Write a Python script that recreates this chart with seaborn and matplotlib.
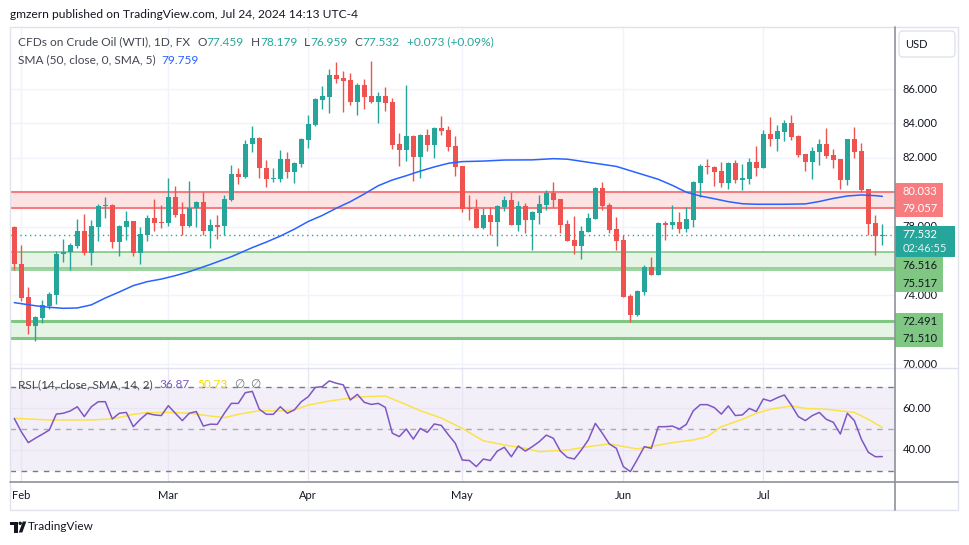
#!/usr/bin/env python3
"""
WTI crude oil CFD, daily candles Feb-Jul 2024, drawn in a TradingView-like layout.
"""

import numpy as np
import pandas as pd
import matplotlib
matplotlib.use("Agg")
import matplotlib.pyplot as plt
from matplotlib.patches import Rectangle, FancyBboxPatch, Polygon, Circle
from matplotlib.lines import Line2D
from matplotlib.transforms import IdentityTransform
import seaborn as sns

# ---------------- data ----------------
# trading days 31 Jan .. 24 Jul 2024, Good Friday closed
dates = pd.bdate_range("2024-01-31", "2024-07-24").drop(pd.Timestamp("2024-03-29"))

opens = [77.96, 75.83, 73.91, 72.24, 72.71, 73.40, 74.02, 76.39, 76.50, 76.89,
         77.75, 76.48, 78.00, 79.22, 79.26, 77.13, 78.00, 78.33, 76.48, 77.51,
         78.48, 78.29, 78.23, 79.72, 78.73, 78.05, 79.06, 79.45, 77.76, 78.09,
         78.05, 79.55, 81.06, 80.90, 82.78, 83.15, 81.39, 80.77, 80.77, 81.93,
         81.20, 81.64, 83.03, 83.91, 85.36, 85.55, 86.81, 86.66, 86.52, 85.26,
         86.23, 85.59, 85.26, 85.59, 85.26, 82.80, 82.45, 83.27, 82.07, 83.33,
         82.74, 83.75, 83.62, 82.69, 81.52, 79.06, 79.02, 77.94, 78.67, 78.29,
         79.16, 79.55, 78.09, 79.20, 78.38, 78.81, 79.26, 79.97, 79.60, 78.15,
         77.22, 76.87, 77.71, 78.44, 80.26, 79.26, 77.86, 77.22, 73.97, 72.86,
         74.22, 75.67, 75.19, 78.23, 78.09, 78.29, 77.86, 78.38, 80.55, 81.52,
         81.46, 81.23, 80.55, 81.72, 80.71, 80.77, 81.78, 81.43, 83.38, 83.09,
         83.52, 84.02, 83.27, 82.22, 81.78, 82.36, 82.80, 82.16, 81.93, 80.71,
         83.09, 82.40, 80.19, 78.19, 77.459]
highs = [78.05, 76.93, 74.51, 72.80, 73.73, 74.18, 76.58, 77.30, 77.03, 78.44,
         78.73, 78.39, 79.31, 79.72, 79.30, 78.10, 78.93, 78.35, 77.96, 78.70,
         79.60, 79.26, 80.81, 80.36, 79.45, 80.65, 79.49, 79.99, 78.44, 78.68,
         79.84, 81.58, 81.39, 83.04, 83.87, 83.20, 81.87, 81.39, 82.45, 82.36,
         81.78, 83.17, 84.49, 85.50, 86.17, 87.16, 87.59, 87.07, 86.95, 86.37,
         86.58, 87.65, 85.85, 86.10, 85.46, 83.42, 86.23, 83.30, 83.37, 83.67,
         83.81, 84.43, 83.85, 83.27, 81.55, 79.84, 79.60, 79.06, 79.12, 79.26,
         79.78, 79.99, 79.51, 79.35, 78.91, 79.84, 80.13, 80.61, 79.60, 78.38,
         78.62, 78.04, 78.77, 80.30, 80.61, 79.40, 78.54, 77.51, 74.06, 74.32,
         75.77, 76.25, 78.29, 78.35, 79.26, 78.87, 79.16, 80.67, 81.64, 81.93,
         81.50, 81.74, 81.78, 81.87, 81.62, 82.01, 82.71, 83.62, 84.39, 83.91,
         84.18, 84.49, 83.30, 82.25, 82.63, 83.09, 83.75, 82.51, 81.95, 83.10,
         83.81, 82.88, 80.20, 78.68, 78.179]
lows = [75.48, 73.67, 71.78, 71.37, 72.38, 73.21, 73.52, 75.92, 75.48, 76.74,
        76.35, 75.77, 77.18, 78.52, 76.78, 76.29, 77.22, 76.29, 75.83, 77.18,
        77.76, 77.94, 78.05, 78.54, 77.51, 77.99, 77.99, 77.51, 76.78, 77.28,
        77.51, 79.50, 80.48, 80.85, 82.36, 80.85, 80.32, 80.58, 80.58, 80.85,
        80.55, 81.48, 82.59, 83.85, 84.84, 84.62, 86.33, 84.68, 85.07, 84.49,
        84.84, 85.17, 84.04, 84.74, 82.51, 81.54, 81.81, 80.67, 80.85, 82.41,
        82.01, 83.33, 82.41, 80.96, 78.83, 78.38, 77.94, 77.86, 77.51, 76.89,
        78.91, 78.09, 77.76, 77.65, 76.64, 78.15, 78.96, 79.12, 77.61, 77.16,
        76.41, 76.11, 77.70, 78.44, 78.96, 77.65, 76.64, 73.93, 72.47, 72.80,
        74.02, 75.19, 75.19, 77.22, 77.86, 77.61, 77.70, 78.00, 79.74, 81.06,
        80.38, 80.32, 80.19, 80.55, 80.13, 80.48, 80.96, 81.42, 82.71, 82.40,
        82.98, 83.04, 82.07, 81.23, 80.77, 81.58, 82.01, 81.39, 80.19, 80.42,
        82.01, 80.03, 77.51, 76.35, 76.959]
closes = [75.81, 73.87, 72.24, 72.73, 73.44, 74.08, 76.41, 76.50, 76.93, 77.75,
          76.48, 78.04, 79.20, 79.25, 77.13, 78.04, 78.33, 76.48, 77.57, 78.48,
          78.23, 78.23, 79.72, 78.68, 78.05, 79.06, 79.45, 77.76, 78.09, 78.00,
          79.60, 81.06, 80.90, 82.80, 83.15, 81.39, 80.75, 80.85, 81.93, 81.20,
          81.68, 83.09, 83.97, 85.42, 85.59, 86.81, 86.58, 86.47, 85.26, 86.23,
          85.55, 85.26, 85.59, 85.20, 82.74, 82.45, 83.27, 82.07, 83.33, 82.74,
          83.75, 83.56, 82.65, 81.48, 79.02, 79.00, 77.94, 78.67, 78.29, 79.20,
          79.55, 78.09, 79.20, 78.38, 78.83, 79.31, 79.97, 79.55, 78.09, 77.16,
          76.87, 77.75, 78.52, 80.26, 79.22, 77.80, 77.18, 73.93, 72.86, 74.26,
          75.67, 75.19, 78.23, 78.09, 78.29, 77.86, 78.44, 80.61, 81.52, 81.48,
          81.20, 80.55, 81.72, 80.71, 80.81, 81.78, 81.43, 83.38, 83.09, 83.56,
          84.02, 83.23, 82.16, 81.78, 82.40, 82.80, 82.11, 81.87, 80.71, 83.09,
          82.36, 80.13, 78.15, 77.459, 77.532]

# SMA(50) read at some bars
sma_bar = [0, 3, 5, 7, 9, 11, 13, 15, 17, 19, 21, 23, 25, 28, 31, 34, 36, 38, 40, 42,
           44, 46, 48, 50, 52, 54, 56, 58, 60, 62, 64, 67, 70, 74, 77, 79, 81, 84, 86, 88,
           90, 92, 94, 96, 98, 100, 102, 104, 106, 110, 113, 115, 117, 119, 121, 123, 124]
sma_val = [73.58, 73.40, 73.31, 73.25, 73.27, 73.45, 73.85, 74.20, 74.57, 74.80,
           74.95, 75.15, 75.38, 75.80, 76.25, 76.78, 77.10, 77.45, 77.85, 78.30,
           78.65, 79.07, 79.45, 79.90, 80.38, 80.71, 80.96, 81.23, 81.47, 81.68,
           81.78, 81.81, 81.87, 81.88, 81.95, 81.92, 81.80, 81.62, 81.50, 81.25,
           81.00, 80.75, 80.40, 80.00, 79.78, 79.62, 79.45, 79.33, 79.30, 79.30,
           79.32, 79.46, 79.64, 79.78, 79.84, 79.80, 79.759]

# RSI(14), one value per bar
rsi_val = [55.0, 48.7, 43.5, 45.6, 47.5, 49.5, 57.1, 57.5, 58.6, 60.6,
           55.9, 60.6, 63.0, 63.0, 54.8, 57.5, 57.9, 51.1, 54.6, 57.5,
           56.7, 56.4, 61.1, 57.5, 54.0, 57.5, 58.3, 51.4, 52.3, 52.2,
           57.5, 62.2, 62.2, 67.3, 67.9, 59.4, 57.0, 57.0, 60.6, 57.5,
           59.1, 63.0, 65.4, 69.8, 70.2, 72.9, 71.8, 71.0, 63.8, 66.5,
           62.7, 61.7, 62.2, 60.3, 48.0, 46.4, 50.0, 45.2, 50.3, 48.4,
           52.4, 51.7, 47.3, 43.2, 35.2, 35.0, 32.1, 35.7, 35.0, 39.5,
           41.3, 36.8, 41.9, 39.5, 41.6, 44.0, 47.1, 45.6, 39.5, 36.5,
           35.7, 40.0, 44.8, 52.7, 48.0, 42.9, 40.8, 32.1, 29.7, 35.5,
           41.6, 40.8, 51.1, 51.1, 51.4, 50.0, 52.2, 58.7, 61.6, 61.6,
           60.2, 57.1, 61.0, 56.4, 56.7, 59.8, 58.3, 64.3, 63.3, 64.9,
           66.2, 61.4, 55.9, 54.0, 56.4, 57.9, 54.6, 53.2, 47.6, 57.5,
           54.0, 45.2, 38.9, 36.8, 36.87]

# RSI smoothing (SMA 14) read at some bars
rsi_sma_bar = [0, 5, 11, 14, 17, 19, 22, 25, 28, 30, 32, 35, 38, 40, 42, 45, 47, 50, 53, 55,
               58, 61, 64, 67, 70, 73, 75, 79, 82, 85, 89, 94, 97, 99, 101, 104, 106, 108,
               111, 113, 116, 120, 122, 124]
rsi_sma_val = [55.1, 54.3, 54.3, 54.8, 57.0, 57.8, 57.9, 57.5, 56.2, 55.4,
               57.0, 58.7, 58.6, 59.1, 61.4, 63.3, 64.3, 65.4, 65.7, 63.0,
               58.7, 55.2, 50.3, 44.4, 42.4, 40.8, 39.2, 40.0, 41.6, 42.9,
               40.5, 43.5, 44.8, 46.4, 51.1, 54.6, 57.5, 59.4, 61.0, 59.8,
               59.4, 57.9, 54.6, 50.73]

resistance_zone = [79.057, 80.033]
support_zones = [[75.517, 76.516], [71.510, 72.491]]
price_ticks = [70, 72, 74, 76, 78, 80, 82, 84, 86]
price_labels = [70, 74, 78, 82, 84, 86]   # the others sit under the zone tags
rsi_ticks = [40, 60]
countdown = "02:46:55"

# ---------------- style ----------------
GREEN = "#26a69a"
RED = "#ef5350"
TEXT = "#131722"
LEG = "#434651"
GRID = "#f0f3fa"
W, H = 970, 545

sns.set_theme(style="white")
plt.rcParams["font.family"] = ["Lato", "DejaVu Sans"]


def box(l, t, r, b):
    return [l / W, 1 - b / H, (r - l) / W, (b - t) / H]


fig = plt.figure(figsize=(W / 100, H / 100), dpi=100)
fig.patch.set_facecolor("white")

ax = fig.add_axes(box(10, 27, 895, 368))
ax_r = fig.add_axes(box(10, 368, 895, 482))
sc_p = fig.add_axes(box(895, 27, 958, 368))
sc_r = fig.add_axes(box(895, 368, 958, 482))
for a in (ax, ax_r, sc_p, sc_r):
    for s in a.spines.values():
        s.set_visible(False)
    a.patch.set_alpha(0)

price_lim = (69.78, 89.605)
rsi_lim = (24.76, 79.05)
x_lim = (-0.614, 125.81)
ppu = (368 - 27) / (price_lim[1] - price_lim[0])   # pixels per price unit

o = np.array(opens)
h = np.array(highs)
l = np.array(lows)
c = np.array(closes)
bars = np.arange(len(c))
month_idx = np.flatnonzero(np.diff(dates.month) != 0) + 1
month_lab = [dates[i].strftime("%b") for i in month_idx]

# ---------------- price pane ----------------
ax.axhspan(resistance_zone[0], resistance_zone[1], color="#fde4e4", lw=0, zorder=1)
for v in resistance_zone:
    ax.axhline(v, color="#f77c80", lw=1.5, zorder=1.5)
for k, (lo, hi) in enumerate(support_zones):
    ax.axhspan(lo, hi, color="#e6f4e6", lw=0, zorder=1)
    if k == 0:
        ax.axhline(hi, color="#81c784", lw=1.2, zorder=1.5)
        ax.axhline(lo + 1.0 / ppu, color="#81c784", lw=1.1, zorder=1.5)
        ax.axhline(lo - 1.0 / ppu, color="#81c784", lw=1.1, zorder=1.5)
    else:
        ax.axhline(hi, color="#81c784", lw=2.2, zorder=1.5)
        ax.axhline(lo, color="#81c784", lw=2.2, zorder=1.5)

ax.axhline(c[-1], color=GREEN, lw=1, ls=(0, (1, 2.5)), zorder=2)

up = c >= o
cols = np.where(up, GREEN, RED)
ax.vlines(bars, l, h, colors=cols, lw=1.0, zorder=3)
ax.bar(bars, np.maximum(np.abs(c - o), 0.06), bottom=np.minimum(o, c),
       width=0.72, color=cols, linewidth=0, zorder=3.5)

sns.lineplot(x=sma_bar, y=sma_val, ax=ax, color="#2962ff", linewidth=1.1, zorder=4)

ax.set_xlim(x_lim)
ax.set_ylim(price_lim)
ax.set_yticks(price_ticks)
ax.set_xticks(month_idx)
ax.grid(True, color=GRID, lw=1)
ax.set_axisbelow(True)
ax.tick_params(length=0, labelleft=False, labelbottom=False)
ax.set_xlabel("")
ax.set_ylabel("")

# ---------------- RSI pane ----------------
ax_r.axhspan(30, 70, color="#7e57c2", alpha=0.09, lw=0, zorder=0)
ax_r.axhline(70, color="#787b86", lw=1, ls=(0, (4, 4)), zorder=1)
ax_r.axhline(30, color="#787b86", lw=1, ls=(0, (4, 4)), zorder=1)
ax_r.axhline(50, color="#a9abb3", lw=1, ls=(0, (4, 4)), zorder=1)
sns.lineplot(x=rsi_sma_bar, y=rsi_sma_val, ax=ax_r, color="#fbe24a", linewidth=1.1, zorder=2)
sns.lineplot(x=bars, y=rsi_val, ax=ax_r, color="#7e57c2", linewidth=1.1, zorder=3)
ax_r.set_xlim(x_lim)
ax_r.set_ylim(rsi_lim)
ax_r.set_yticks(rsi_ticks)
ax_r.set_xticks(month_idx)
ax_r.set_xticklabels(month_lab)
ax_r.grid(True, color="#e9e5f3", lw=1)
ax_r.set_axisbelow(True)
ax_r.tick_params(axis="x", length=0, pad=6, labelsize=8, labelcolor=TEXT)
ax_r.tick_params(axis="y", length=0, labelleft=False)
ax_r.set_xlabel("")
ax_r.set_ylabel("")

# ---------------- price scale ----------------
sc_p.set_xlim(0, 63)
sc_p.set_ylim(price_lim)
sc_p.set_xticks([])
sc_p.set_yticks([])
for v in price_labels:
    sc_p.text(7.5, v, f"{v:.3f}", va="center", ha="left", fontsize=8, color=TEXT, zorder=2)


def tag(y_mid, hgt_px, label, fc, tc, w=48):
    sc_p.add_patch(Rectangle((0, y_mid - hgt_px / 2 / ppu), w, hgt_px / ppu,
                             fc=fc, ec="none", zorder=5, clip_on=False))
    sc_p.text(7.5, y_mid, label, va="center", ha="left", fontsize=8, color=tc, zorder=6)


for v in resistance_zone:
    tag(v, 17, f"{v:.3f}", "#f77c80", "white")
for v in support_zones[0]:
    tag(v - 13.8 / ppu, 17.6, f"{v:.3f}", "#81c784", TEXT)
for v in support_zones[1]:
    tag(v, 17, f"{v:.3f}", "#81c784", TEXT)
# last price tag with countdown
sc_p.add_patch(Rectangle((0, c[-1] - 22.7 / ppu), 60, 31 / ppu, fc=GREEN, ec="none",
                         zorder=7, clip_on=False))
sc_p.text(7.5, c[-1], f"{c[-1]:.3f}", va="center", ha="left", fontsize=8, color="white", zorder=8)
sc_p.text(7.5, c[-1] - 13.5 / ppu, countdown, va="center", ha="left", fontsize=8,
          color="#dff3f1", zorder=8)

sc_r.set_xlim(0, 63)
sc_r.set_ylim(rsi_lim)
sc_r.set_xticks([])
sc_r.set_yticks([])
for v in rsi_ticks:
    sc_r.text(7.5, v, f"{v:.2f}", va="center", ha="left", fontsize=8, color=TEXT)

# ---------------- frame ----------------
fig.add_artist(Rectangle((10 / W, 1 - 510 / H), 948 / W, 483 / H, transform=fig.transFigure,
                         fill=False, ec="#e0e3eb", lw=1))
fig.add_artist(Line2D([10 / W, 958 / W], [1 - 368 / H] * 2, color="#e0e3eb", lw=1))
fig.add_artist(Line2D([10 / W, 958 / W], [1 - 482 / H] * 2, color="#8e919a", lw=1.2))
fig.add_artist(Line2D([895 / W] * 2, [1 - 27 / H, 1 - 510 / H], color="#8e919a", lw=1.2))

fig.add_artist(FancyBboxPatch((899, H - 57), 56, 26, boxstyle="round,pad=0,rounding_size=4",
                              transform=IdentityTransform(), fc="white", ec="#e0e3eb", lw=1))
fig.text(905 / W, 1 - 44 / H, "USD", fontsize=8, color=TEXT, va="center", ha="left")

# ---------------- texts ----------------
renderer = fig.canvas.get_renderer()


def seq_text(x, y, parts, size=8.6):
    for s, col, gap in parts:
        t = fig.text(x / W, 1 - y / H, s, color=col, fontsize=size, va="center", ha="left")
        x += t.get_window_extent(renderer).width + gap


fig.text(10 / W, 1 - 14 / H, "gmzern published on TradingView.com, Jul 24, 2024 14:13 UTC-4",
         fontsize=8.65, color=TEXT, va="center", ha="left")

chg = c[-1] - c[-2]
pct = chg / c[-2] * 100
seq_text(18, 42, [("CFDs on Crude Oil (WTI), 1D, FX", LEG, 7),
                  ("O", LEG, 0), (f"{o[-1]:.3f}", GREEN, 7),
                  ("H", LEG, 0), (f"{h[-1]:.3f}", GREEN, 7),
                  ("L", LEG, 0), (f"{l[-1]:.3f}", GREEN, 7),
                  ("C", LEG, 0), (f"{c[-1]:.3f}", GREEN, 7),
                  (f"{chg:+.3f} ({pct:+.2f}%)", GREEN, 0)])
seq_text(18, 60, [("SMA (50, close, 0, SMA, 5)", LEG, 6),
                  (f"{sma_val[-1]:.3f}", "#2962ff", 0)])
seq_text(18, 385, [("RSI (14, close, SMA, 14, 2)", LEG, 7),
                   (f"{rsi_val[-1]:.2f}", "#7e57c2", 7),
                   (f"{rsi_sma_val[-1]:.2f}", "#f5d90a", 7),
                   ("\u2205", "#787b86", 6), ("\u2205", "#787b86", 0)], size=8.5)

# TradingView logo
def pxpoly(pts):
    return Polygon([(x, H - y) for x, y in pts], closed=True, transform=IdentityTransform(),
                   fc=TEXT, ec="none")


fig.add_artist(pxpoly([(10, 521.5), (17.5, 521.5), (17.5, 532.5), (13.8, 532.5), (13.8, 525), (10, 525)]))
fig.add_artist(Circle((20.2, H - 523.3), 1.7, transform=IdentityTransform(), fc=TEXT, ec="none"))
fig.add_artist(pxpoly([(22.8, 521.5), (26.3, 521.5), (22.3, 532.5), (18.8, 532.5)]))
fig.text(28 / W, 1 - 527 / H, "TradingView", fontsize=8.5, color=TEXT, va="center", ha="left")

fig.savefig("out.png", dpi=100)
plt.close(fig)
